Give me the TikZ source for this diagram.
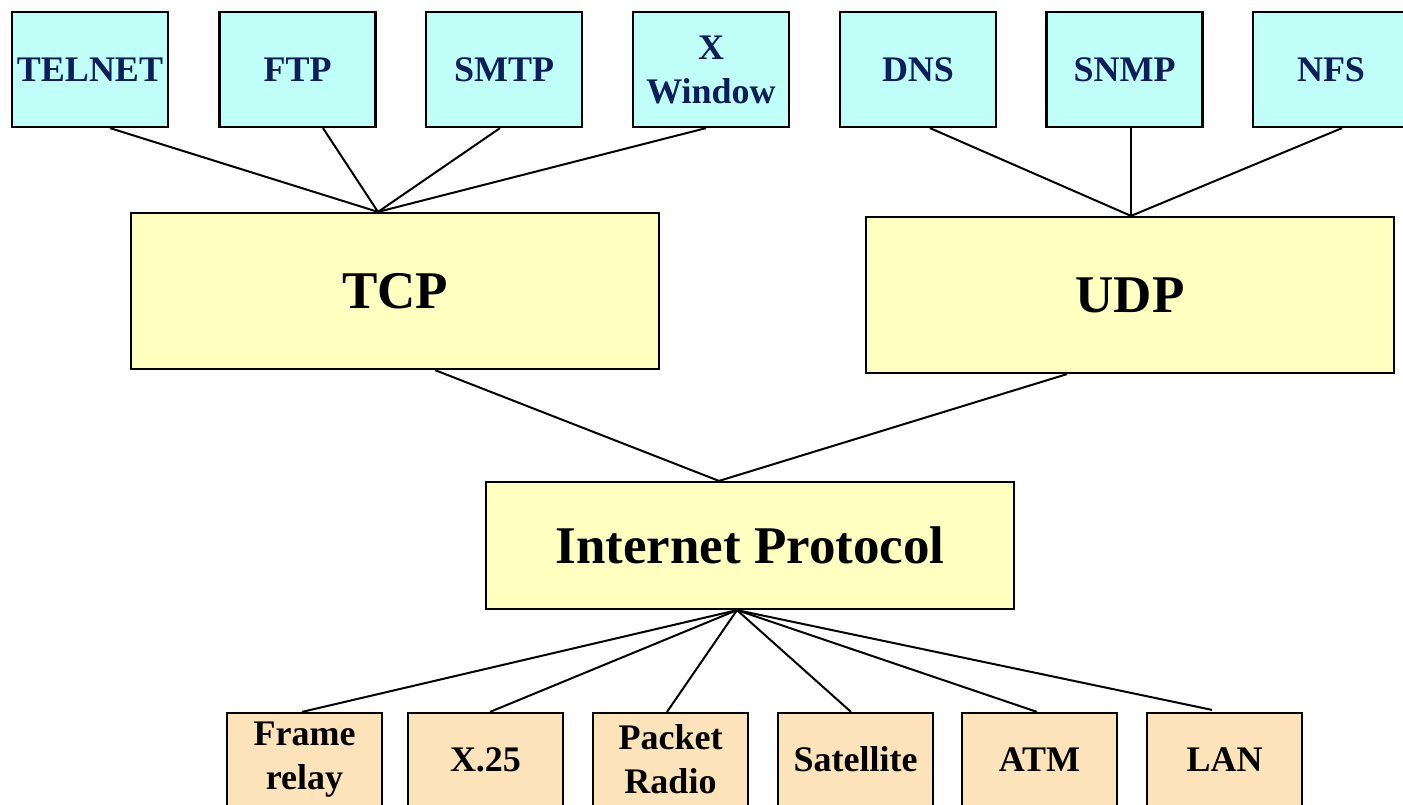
\documentclass[tikz,border=0pt]{standalone}
\usepackage{fontspec}
\setmainfont{Liberation Serif}
\usetikzlibrary{calc}
\definecolor{appfill}{HTML}{BFFFF8}
\definecolor{tpfill}{HTML}{FFFFBF}
\definecolor{netfill}{HTML}{FCE3B9}
\definecolor{navytext}{HTML}{0E1E5B}
\tikzset{
  appbox/.style={draw=black, line width=1.1pt, fill=appfill, minimum width=78pt, minimum height=57.5pt, inner sep=0pt, align=center, font=\fontsize{18}{22}\selectfont\bfseries, text=navytext},
  tpbox/.style={draw=black, line width=1.1pt, fill=tpfill, minimum width=264pt, inner sep=0pt, align=center, font=\fontsize{26.5}{30}\selectfont\bfseries},
  netbox/.style={draw=black, line width=1.1pt, fill=netfill, minimum width=77.5pt, minimum height=46.5pt, inner sep=0pt, align=center, font=\fontsize{18}{22}\selectfont\bfseries},
  link/.style={draw=black, line width=1pt}
}
\begin{document}
\begin{tikzpicture}[x=0.5pt, y=-0.5pt]
\useasboundingbox (0,0) rectangle (1403,804);
% application boxes
\node[appbox] (telnet) at (90,69.5) {TELNET};
\node[appbox] (ftp) at (297.5,69.5) {FTP};
\node[appbox] (smtp) at (504,69.5) {SMTP};
\node[appbox] (xwin) at (711,69.5) {X\\Window};
\node[appbox] (dns) at (918,69.5) {DNS};
\node[appbox] (snmp) at (1124.5,69.5) {SNMP};
\node[appbox] (nfs) at (1331,69.5) {NFS};
% transport
\node[tpbox, minimum height=78pt] (tcp) at (395,291) {TCP};
\node[tpbox, minimum height=78pt] (udp) at (1130,295) {UDP};
\node[tpbox, minimum height=63.5pt] (ip) at (750,545.5) {Internet Protocol};
% network boxes
\node[netbox] (frame) at (304.5,759.5) {Frame\\relay};
\node[netbox] (x25) at (485.5,759.5) {X.25};
\node[netbox] (packet) at (670.5,759.5) {Packet\\Radio};
\node[netbox] (sat) at (855.5,759.5) {Satellite};
\node[netbox] (atm) at (1039.5,759.5) {ATM};
\node[netbox] (lan) at (1224.5,759.5) {LAN};
% junction points
\coordinate (tcptop) at ($(tcp.north)+(-17,0)$);
\coordinate (udptop) at ($(udp.north)+(1,0)$);
\coordinate (tcpbot) at ($(tcp.south)+(40,0)$);
\coordinate (udpbot) at ($(udp.south)+(-63,0)$);
\coordinate (iptop) at ($(ip.north)+(-31,0)$);
\coordinate (ipbot) at ($(ip.south)+(-13,0)$);
% connectors
\draw[link] ($(telnet.south)+(20,0)$) -- (tcptop);
\draw[link] ($(ftp.south)+(25.5,0)$) -- (tcptop);
\draw[link] ($(smtp.south)+(-4,0)$) -- (tcptop);
\draw[link] ($(xwin.south)+(-5,0)$) -- (tcptop);
\draw[link] ($(dns.south)+(12,0)$) -- (udptop);
\draw[link] ($(snmp.south)+(6.5,0)$) -- (udptop);
\draw[link] ($(nfs.south)+(11,0)$) -- (udptop);
\draw[link] (tcpbot) -- (iptop);
\draw[link] (udpbot) -- (iptop);
\draw[link] (ipbot) -- ($(frame.north)+(-2.5,0)$);
\draw[link] (ipbot) -- ($(x25.north)+(4.5,0)$);
\draw[link] (ipbot) -- ($(packet.north)+(-3.5,0)$);
\draw[link] (ipbot) -- ($(sat.north)+(-4.5,0)$);
\draw[link] (ipbot) -- ($(atm.north)+(-2.5,0)$);
\draw[link] (ipbot) -- ($(lan.north)+(-12.5,-2)$);
\end{tikzpicture}
\end{document}
